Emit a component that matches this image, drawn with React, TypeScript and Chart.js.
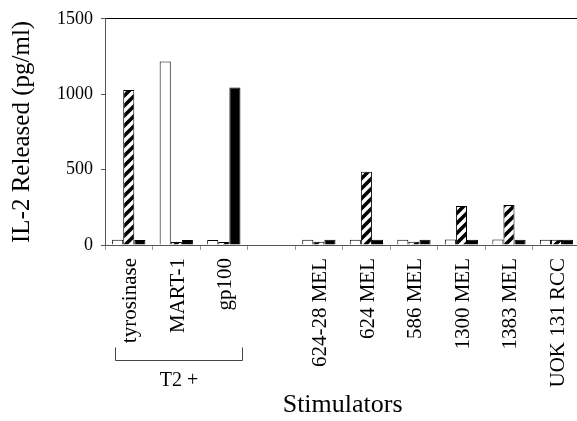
import React, { useEffect, useRef } from "react";
import { Chart, registerables } from "chart.js";

Chart.register(...registerables);

const categories = [
  "tyrosinase",
  "MART-1",
  "gp100",
  "",
  "624-28 MEL",
  "624 MEL",
  "586 MEL",
  "1300 MEL",
  "1383 MEL",
  "UOK 131 RCC",
];
const openValues = [35, 1217, 33, null, 35, 35, 35, 37, 37, 35];
const hatchedValues = [1028, 20, 20, null, 22, 485, 22, 258, 265, 35];
const solidValues = [33, 33, 1045, null, 35, 35, 35, 35, 35, 35];
const yTickValues = [0, 500, 1000, 1500];
const groupLabel = "T2 +";
const groupRange = [0, 2];
const xTitle = "Stimulators";
const yTitle = "IL-2 Released (pg/ml)";

const SERIF = '"Liberation Serif", "Times New Roman", serif';

function makeHatch(): CanvasPattern | string {
  const c = document.createElement("canvas");
  c.width = 10;
  c.height = 10;
  const g = c.getContext("2d");
  if (!g) return "#888";
  g.fillStyle = "#fff";
  g.fillRect(0, 0, 10, 10);
  g.strokeStyle = "#000";
  g.lineWidth = 3.6;
  g.beginPath();
  g.moveTo(-5, 5);
  g.lineTo(5, -5);
  g.moveTo(0, 10);
  g.lineTo(10, 0);
  g.moveTo(5, 15);
  g.lineTo(15, 5);
  g.stroke();
  const p = g.createPattern(c, "repeat");
  return p || "#888";
}

const bracketPlugin = {
  id: "groupBracket",
  afterDraw(chart: any) {
    const xs = chart.scales.x;
    const ctx = chart.ctx as CanvasRenderingContext2D;
    const w = xs.getPixelForValue(1) - xs.getPixelForValue(0);
    const x0 = Math.round(xs.getPixelForValue(groupRange[0]) - 0.3 * w) + 0.5;
    const x1 = Math.round(xs.getPixelForValue(groupRange[1]) + 0.375 * w) + 0.5;
    const yLine = Math.round(chart.chartArea.bottom + 115) + 0.5;
    const yTop = yLine - 13;
    ctx.save();
    ctx.strokeStyle = "#444";
    ctx.lineWidth = 1;
    ctx.beginPath();
    ctx.moveTo(x0, yTop);
    ctx.lineTo(x0, yLine);
    ctx.lineTo(x1, yLine);
    ctx.lineTo(x1, yTop);
    ctx.stroke();
    ctx.font = "20px " + SERIF;
    ctx.textAlign = "center";
    ctx.textBaseline = "middle";
    ctx.fillStyle = "#000";
    ctx.fillText(groupLabel, (x0 + x1) / 2, yLine + 20);
    ctx.restore();
  },
};

export default function App() {
  const ref = useRef<HTMLCanvasElement | null>(null);

  useEffect(() => {
    if (!ref.current) return;
    const hatch = makeHatch();
    const common = {
      borderColor: "#000",
      borderWidth: 1,
      barPercentage: 1.0,
      categoryPercentage: 0.7,
    };
    const chart = new Chart(ref.current, {
      type: "bar",
      data: {
        labels: categories,
        datasets: [
          { label: "open", data: openValues, backgroundColor: "#fff", ...common },
          { label: "hatched", data: hatchedValues, backgroundColor: hatch as any, ...common },
          { label: "solid", data: solidValues, backgroundColor: "#000", ...common },
        ],
      },
      options: {
        responsive: false,
        animation: false,
        devicePixelRatio: 1,
        layout: { padding: { top: 13, right: 6, left: 0, bottom: 0 } },
        plugins: {
          legend: { display: false },
          tooltip: { enabled: false },
        },
        scales: {
          x: {
            grid: {
              display: true,
              drawOnChartArea: false,
              drawTicks: true,
              tickLength: 5,
              tickColor: "#999",
              offset: true,
            },
            border: { display: true, color: "#555", width: 1 },
            ticks: {
              autoSkip: false,
              maxRotation: 90,
              minRotation: 90,
              padding: 8,
              labelOffset: 2,
              color: "#000",
              font: { family: SERIF, size: 21 },
            },
            title: {
              display: true,
              text: xTitle,
              color: "#000",
              font: { family: SERIF, size: 26 },
              padding: { top: 0, bottom: 0 },
            },
            afterFit(scale: any) {
              scale.height = 176;
            },
          },
          y: {
            min: 0,
            max: 1500,
            afterBuildTicks(scale: any) {
              scale.ticks = yTickValues.map((v) => ({ value: v }));
            },
            grid: {
              drawOnChartArea: true,
              drawTicks: true,
              tickLength: 4,
              tickColor: "#555",
              color: (c: any) => (c.tick && c.tick.value === 1500 ? "#000" : "rgba(0,0,0,0)"),
            },
            border: { display: true, color: "#555", width: 1 },
            ticks: {
              padding: 8,
              color: "#000",
              font: { family: SERIF, size: 18 },
              callback: (v: any) => String(v),
            },
            title: {
              display: true,
              text: yTitle,
              color: "#000",
              font: { family: SERIF, size: 25 },
              padding: { top: 7, bottom: 0 },
            },
            afterFit(scale: any) {
              scale.width = 105;
            },
          },
        },
      },
      plugins: [bracketPlugin],
    });
    return () => chart.destroy();
  }, []);

  return (
    <div
      style={{
        position: "fixed",
        left: 0,
        top: 0,
        width: 577,
        height: 421,
        overflow: "hidden",
        background: "#fff",
      }}
    >
      <canvas ref={ref} width={590} height={421} style={{ display: "block" }} />
    </div>
  );
}
